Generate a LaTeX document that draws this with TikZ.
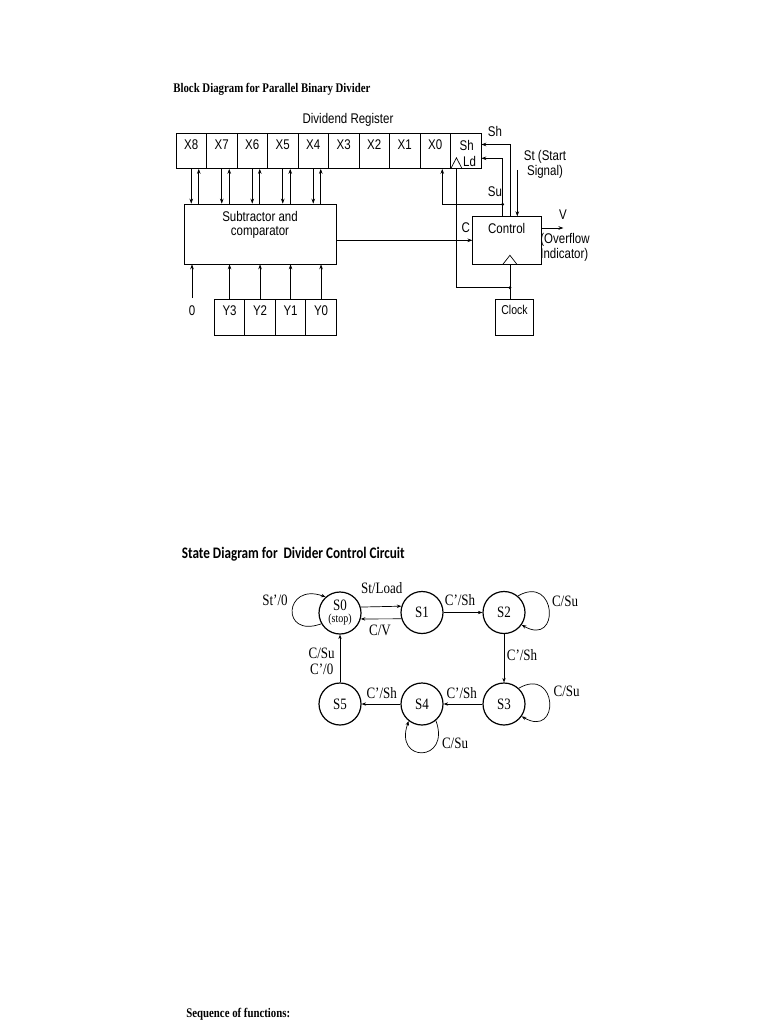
\documentclass[tikz,border=0pt]{standalone}
\usepackage{graphicx}
\usepackage{fontspec}
\setmainfont{Liberation Serif}
\newfontfamily\arialf{Liberation Sans}
\newfontfamily\calf{Carlito}
\usetikzlibrary{arrows.meta}
\newcommand\tallt[1]{\scalebox{1}[1.22]{#1}}
\begin{document}
\begin{tikzpicture}[x=1pt,y=-1pt,line width=0.7pt,
  arr/.style={-{Stealth[length=5pt,width=3.6pt]}},
  sarr/.style={-{Stealth[length=4.5pt,width=3.4pt]}},
  cell/.style={draw, minimum width=30.5pt, minimum height=35pt, inner sep=0pt},
  ycell/.style={draw, minimum width=30.5pt, minimum height=35.7pt, inner sep=0pt},
  blk/.style={font=\arialf\fontsize{11.5}{13}\selectfont, inner sep=0pt},
  state/.style={draw, circle, line width=1.2pt, minimum size=42pt, inner sep=0pt, align=center, font=\fontsize{13}{13}\selectfont},
  slab/.style={font=\fontsize{13}{14}\selectfont, inner sep=0pt},
  ttl/.style={font=\bfseries\fontsize{10.8}{12}\selectfont, inner sep=0pt, anchor=west}]
\fill[white] (0,0) rectangle (768,1024);
\useasboundingbox (0,0) rectangle (768,1024);

% ---------- Block diagram ----------
\node[ttl] (t1) at (173,89) {\tallt{Block Diagram for Parallel Binary Divider}};
\node[blk] (regt) at (348,120) {\tallt{Dividend Register}};

\foreach \n [count=\i from 0] in {8,7,6,5,4,3,2,1,0}{
  \node[cell] (x\n) at (191.25+30.5*\i,151) {};
  \node[blk] (lx\n) at ([yshift=6pt]x\n.center) {\tallt{X\n}};
}
\node[cell] (shc) at (465.75,151) {};
\node[blk] (lsh) at (466.7,145) {\tallt{Sh}};
\node[blk] (lld) at (469.5,161.7) {\tallt{Ld}};

\node[draw, minimum width=152pt, minimum height=60pt, inner sep=0pt] (sub) at (260,234) {};
\node[blk] (subt1) at (260,216.3) {\tallt{Subtractor and}};
\node[blk] (subt2) at (260,232.7) {\tallt{comparator}};

\node[draw, minimum width=68.3pt, minimum height=47.3pt, inner sep=0pt] (ctrl) at (506.9,240.3) {};
\node[blk] (ctrlt) at (506.7,228) {\tallt{Control}};

\node[draw, minimum width=38pt, minimum height=36pt, inner sep=0pt] (clk) at (514,317) {};
\node[blk, font=\arialf\fontsize{10.5}{12}\selectfont] (clkt) at (514.5,310) {\tallt{Clock}};

\foreach \n [count=\i from 0] in {3,2,1,0}{
  \node[ycell] (y\n) at (229.55+30.5*\i,317.2) {};
  \node[blk] (ly\n) at ([yshift=6.5pt]y\n.center) {\tallt{Y\n}};
  \draw[arr] (y\n.north) -- (y\n.north |- sub.south);
}
\node[blk] (zero) at (192,311) {\tallt{0}};
\coordinate (zt) at (192,298);
\draw[arr] (zt) -- (zt |- sub.south);

% register <-> subtractor
\foreach \n in {8,7,6,5,4}{
  \draw[arr] (x\n.south) -- (x\n.south |- sub.north);
  \draw[arr] ([xshift=7.5pt]x\n.south |- sub.north) -- ([xshift=7.5pt]x\n.south);
}

% C
\draw[arr] (sub.east |- ctrl.west) -- (ctrl.west);
\node[blk] (lc) at (465.7,228) {\tallt{C}};

% Sh, Ld, Su, St
\coordinate (ldx) at ([xshift=-4.3pt]ctrl.north);
\draw[arr] (ldx) |- ([yshift=-7.3pt]shc.east);
\draw[arr] ([xshift=3pt]ctrl.north) |- ([yshift=6.5pt]shc.east);
\coordinate (sudot) at (ldx |- 0,204.3);
\fill (sudot) circle (1.6pt);
\draw[arr] (sudot) -| ([xshift=7pt]x0.south);
\coordinate (sttop) at (517.3,170);
\draw[arr] (sttop) -- (sttop |- ctrl.north);
\node[blk] (lsh2) at (495,131) {\tallt{Sh}};
\node[blk] (lsu) at (495,191.7) {\tallt{Su}};
\node[blk] (lst1) at (545,156.7) {\tallt{St (Start}};
\node[blk] (lst2) at (545,171.7) {\tallt{Signal)}};

% clock lines
\draw ([xshift=0.5pt]shc.south west) -- ([xshift=6.3pt,yshift=11pt]shc.south west) -- ([xshift=12pt]shc.south west);
\coordinate (clkdot) at ([xshift=3pt]ctrl.south |- 0,287.7);
\draw ([xshift=6.5pt]shc.south west) |- (clkdot);
\fill (clkdot) circle (1.6pt);
\draw ([xshift=3pt]ctrl.south) -- (clkdot) -- (clkdot |- clk.north);
\draw ([xshift=-4pt]ctrl.south) -- ([xshift=3pt,yshift=9pt]ctrl.south) -- ([xshift=10pt]ctrl.south);

% V
\draw[arr] ([yshift=12.3pt]ctrl.east) -- +(22pt,0);
\node[blk] (lv) at (563,215) {\tallt{V}};
\node[blk, anchor=west] (lov) at (540,240) {\tallt{(Overflow}};
\node[blk, anchor=west] (lind) at (540,255) {\tallt{Indicator)}};

% ---------- State diagram ----------
\node[font=\calf\bfseries\fontsize{13.2}{14}\selectfont, inner sep=0pt, anchor=west] (t2) at (181.5,554.3) {\tallt{State Diagram for\ \ Divider Control Circuit}};

\node[state] (S0) at (340,613) {\tallt{\begin{tabular}{@{}c@{}}S0\\[-3pt]{\fontsize{10}{10}\selectfont (stop)}\end{tabular}}};
\node[state] (S1) at (422,612.5) {\tallt{S1}};
\node[state] (S2) at (504,612.5) {\tallt{S2}};
\node[state] (S3) at (504,704) {\tallt{S3}};
\node[state] (S4) at (422,704) {\tallt{S4}};
\node[state] (S5) at (340,704) {\tallt{S5}};

\draw[sarr] (S0.16.6) -- (S1.163.4);
\draw[sarr] (S1.-163.4) -- (S0.-16.6);
\draw[sarr] (S1) -- (S2);
\draw[sarr] (S2) -- (S3);
\draw[sarr] (S3) -- (S4);
\draw[sarr] (S4) -- (S5);
\draw[sarr] (S5) -- (S0);

\draw[sarr] (S2.50) .. controls +(30:45pt) and +(-30:45pt) .. (S2.-35);
\draw[sarr] (S3.47) .. controls +(30:45pt) and +(-30:45pt) .. (S3.-35);
\draw[sarr] (S4.-50) .. controls +(-70:45pt) and +(-110:45pt) .. (S4.-128);
\draw[sarr] (S0.-150) .. controls +(200:44pt) and +(160:44pt) .. (S0.132);

\node[slab] (e01) at (381.7,588.3) {\tallt{St/Load}};
\node[slab] (e10) at (380,630.7) {\tallt{C/V}};
\node[slab] (e12) at (460,600) {\tallt{C'/Sh}};
\node[slab] (e22) at (565,601.7) {\tallt{C/Su}};
\node[slab] (e23) at (522,655) {\tallt{C'/Sh}};
\node[slab] (e33) at (566.7,691.7) {\tallt{C/Su}};
\node[slab] (e34) at (461.7,693.3) {\tallt{C'/Sh}};
\node[slab] (e45) at (381.7,693.3) {\tallt{C'/Sh}};
\node[slab] (e44) at (455,743.3) {\tallt{C/Su}};
\node[slab] (e50a) at (321.7,653.3) {\tallt{C/Su}};
\node[slab] (e50b) at (321.7,669.3) {\tallt{C'/0}};
\node[slab] (e00) at (275,600.7) {\tallt{St'/0}};

\node[ttl] (t3) at (186,1014) {\tallt{Sequence of functions:}};
\end{tikzpicture}
\end{document}
